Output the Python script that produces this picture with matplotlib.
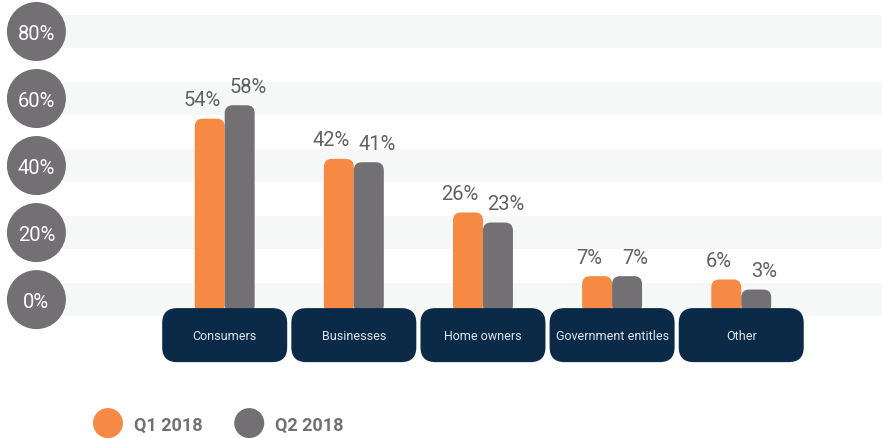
import numpy as np
import matplotlib.pyplot as plt
from matplotlib.patches import FancyBboxPatch

# survey shares per customer segment
categories = ['Consumers', 'Businesses', 'Home owners', 'Government entitles', 'Other']
q1_2018 = [54, 42, 26, 7, 6]
q2_2018 = [58, 41, 23, 7, 3]
series_names = ['Q1 2018', 'Q2 2018']
y_ticks = [0, 20, 40, 60, 80]
y_tick_labels = ['0%', '20%', '40%', '60%', '80%']

orange = '#f68a45'
grey = '#727073'
navy = '#0b2a47'
band = '#f6f8f8'

plt.rcParams['font.family'] = ['Roboto', 'DejaVu Sans']

fig = plt.figure(figsize=(8.82, 4.39), dpi=100)
ax = fig.add_axes([0, 0, 1, 1])
ax.set_xlim(-1.74, 5.09)
ax.set_ylim(-41.3, 89.7)
ax.axis('off')

# pixel scale of each axis unit, used to keep rounded corners circular
px_x = 882 / (5.09 + 1.74)
px_y = 439 / (89.7 + 41.3)
aspect = px_x / px_y

# light bands behind each tick
for t in y_ticks:
    ax.axhspan(t - 4.9, t + 4.9, xmin=62 / 882, xmax=1, color=band, lw=0, zorder=0)

# round tick markers on the left
tick_x = -1.458
ax.scatter([tick_x] * len(y_ticks), y_ticks, s=42.5 ** 2, color=grey,
           edgecolor='none', zorder=3)
for t, lab in zip(y_ticks, y_tick_labels):
    ax.text(tick_x, t, lab, color='white', fontsize=14.5, ha='center',
            va='center_baseline', zorder=4)

x = np.arange(len(categories))
w = 0.232
base = -4

def rounded_bars(xs, vals, color):
    bars = ax.bar(xs, np.array(vals) - base, bottom=base, width=w, color=color)
    for r in bars:
        r.set_visible(False)
        p = FancyBboxPatch((r.get_x(), r.get_y()), r.get_width(), r.get_height(),
                           boxstyle='round,pad=0,rounding_size=0.062',
                           mutation_aspect=aspect, fc=color, ec='none', zorder=2)
        ax.add_patch(p)

rounded_bars(x - w / 2, q1_2018, orange)
rounded_bars(x + w / 2, q2_2018, grey)

for xi, v1, v2 in zip(x, q1_2018, q2_2018):
    ax.text(xi - w / 2 - 0.062, v1 + 2.8, f'{v1}%', color='#616161',
            fontsize=14.5, ha='center', va='bottom')
    ax.text(xi + w / 2 + 0.062, v2 + 2.8, f'{v2}%', color='#616161',
            fontsize=14.5, ha='center', va='bottom')

# category boxes under the bars
box_w = 0.968
box_top, box_bot = -2.54, -18.66
for xi, name in zip(x, categories):
    p = FancyBboxPatch((xi - box_w / 2, box_bot), box_w, box_top - box_bot,
                       boxstyle='round,pad=0,rounding_size=0.116',
                       mutation_aspect=aspect, fc=navy, ec='none', zorder=5)
    ax.add_patch(p)
    ax.text(xi, (box_top + box_bot) / 2, name, color='#e1e7ee', fontsize=9,
            ha='center', va='center', zorder=6)

# legend
leg_y = -36.85
for mx, tx, c, name in zip([-0.904, 0.19], [-0.7025, 0.39], [orange, grey], series_names):
    ax.scatter([mx], [leg_y], s=21.6 ** 2, color=c, edgecolor='none', zorder=3)
    ax.text(tx, leg_y, name, color=grey, fontsize=13, fontweight='bold',
            ha='left', va='center_baseline')

fig.savefig('out.png', dpi=100)
